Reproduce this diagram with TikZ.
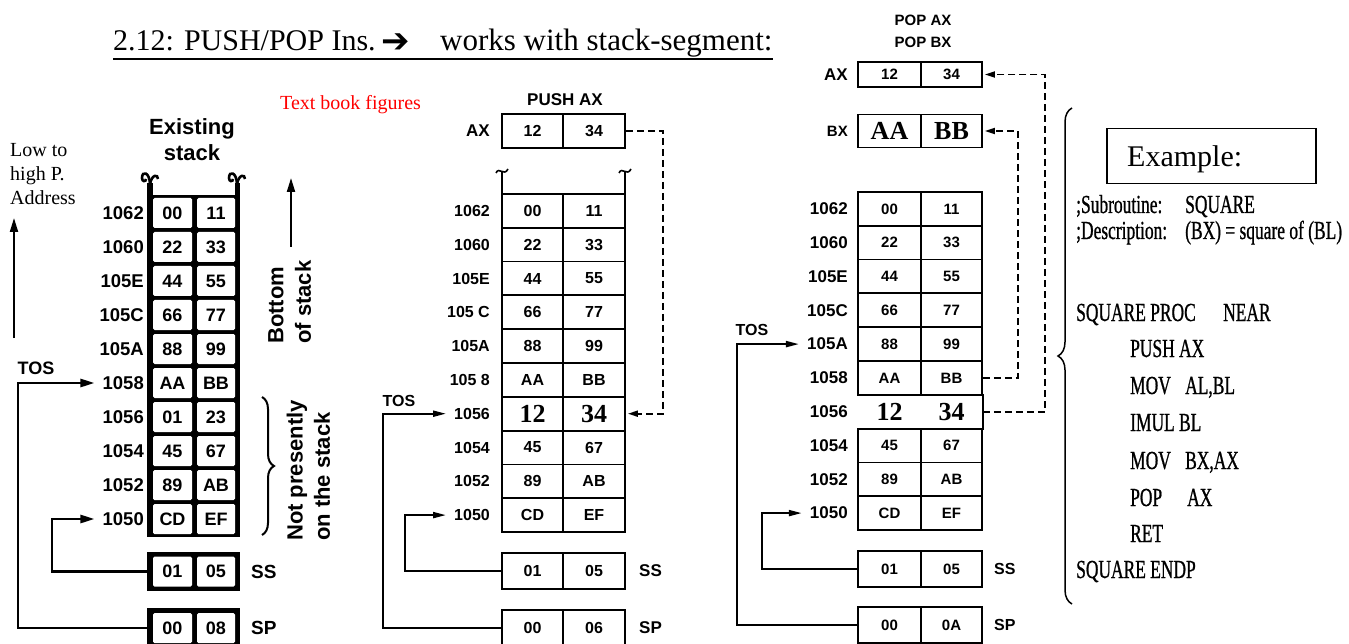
\documentclass[tikz,border=0pt]{standalone}
\usepackage{fontspec}
\usepackage{graphicx}
\setmainfont{Liberation Serif}
\newfontfamily\hv{Liberation Sans}
\newfontfamily\djv{DejaVu Sans}
\newfontfamily\codefont[FakeStretch=0.67,FakeBold=0.8]{Liberation Serif}
\usetikzlibrary{arrows.meta,decorations.pathreplacing,calc}
\newcommand\fs[1]{\fontsize{#1}{#1}\selectfont}
\newcommand\bigv[1]{{\rmfamily\bfseries\fs{26}#1}}
\newcommand\cd[1]{#1}
\begin{document}
\begin{tikzpicture}[x=1pt,y=-1pt,
  lab/.style={font=\hv\bfseries\fs{16}, anchor=east, inner sep=0pt},
  tcell/.style={fill=white, rounded corners=1.5pt, minimum width=39pt, minimum height=30pt, inner sep=0pt, font=\hv\bfseries\fs{18}},
  ncell/.style={draw, line width=1.8pt, minimum width=61pt, minimum height=33.8pt, inner sep=0pt, font=\hv\bfseries\fs{16}},
  rcell/.style={ncell, font=\hv\bfseries\fs{15}},
  rlab/.style={lab, font=\hv\bfseries\fs{17}},
  blab/.style={font=\hv\bfseries\fs{16}, inner sep=0pt},
  thk/.style={line width=2.6pt, -{Triangle[length=14pt,width=8pt]}},
  thn/.style={line width=2pt, -{Triangle[length=13pt,width=6pt]}},
  dsh/.style={line width=1.8pt, dash pattern=on 7pt off 4pt, -{Triangle[length=10pt,width=6pt]}},
  rot/.style={rotate=90, anchor=west, inner sep=0pt, font=\hv\bfseries\fs{22}},
  code/.style={anchor=base west, inner sep=0pt, font=\codefont\fs{26}},
  serl/.style={anchor=base west, inner sep=0pt, font=\fs{20}}
]
\useasboundingbox (0,0) rectangle (1349,644);

% ---------- title ----------
\node[anchor=base west, inner sep=0pt, font=\fs{30}] (t1) at (113,51) {2.12: PUSH/POP Ins.};
\node[anchor=base west, inner sep=0pt, font=\djv\fs{34}] (t2) at (381,53) {➔};
\node[anchor=base west, inner sep=0pt, font=\fs{31}] (t3) at (440,51) {works with stack-segment:};
\draw[line width=1.5pt] ([yshift=-8pt]t1.base west) -- ([yshift=-8pt]t3.base east);

\node[anchor=base west, inner sep=0pt, text=red, font=\fs{20}] (tb) at (280,110) {Text book figures};

\node[serl] (lh1) at (10,157) {Low to};
\node[serl] (lh2) at (10,181) {high P.};
\node[serl] (lh3) at (10,205) {Address};
\coordinate (up0) at (14,338);
\coordinate (up1) at (14,218);
\draw[line width=2pt, -{Triangle[length=14pt,width=8pt]}] (up0) -- (up1);

% ---------- left stack ----------
\node[anchor=base, inner sep=0pt, font=\hv\bfseries\fs{22}] (ex1) at (192,135) {Existing};
\node[anchor=base, inner sep=0pt, font=\hv\bfseries\fs{22}] (ex2) at (192,161) {stack};
\fill (147,195) rectangle (240,537);
\fill (147,183) rectangle (153,195);
\fill (235,183) rectangle (240,195);
\draw[line width=2.6pt] (150,185) .. controls (150,172) and (142,170) .. (142,178) .. controls (142,182) and (146,182) .. (146,179);
\draw[line width=2.6pt] (150,184) .. controls (152,174) and (158,174) .. (158,179);
\draw[line width=2.6pt] (237,185) .. controls (237,172) and (229,170) .. (229,178) .. controls (229,182) and (233,182) .. (233,179);
\draw[line width=2.6pt] (237,184) .. controls (239,174) and (245,174) .. (245,179);
\foreach \a/\l/\r [count=\i from 0] in {1062/00/11,1060/22/33,105E/44/55,105C/66/77,105A/88/99,1058/AA/BB,1056/01/23,1054/45/67,1052/89/AB,1050/CD/EF}{
  \node[tcell] (La\a) at (172.5,{213+34*\i}) {\l};
  \node[tcell, minimum width=38pt] (Lb\a) at (216,{213+34*\i}) {\r};
  \node[lab, font=\hv\bfseries\fs{18.5}] (Ll\a) at (144,{213+34*\i}) {\a};
}
\node[fill, minimum width=93pt, minimum height=39pt, inner sep=0pt] (LSS) at (193.5,571.5) {};
\node[tcell] (LSSa) at (172.5,571.5) {01};
\node[tcell, minimum width=38pt] (LSSb) at (216,571.5) {05};
\node[blab, anchor=west, font=\hv\bfseries\fs{19}] (LSSl) at (251,571.5) {SS};
\node[fill, minimum width=93pt, minimum height=40pt, inner sep=0pt] (LSP) at (193.5,628) {};
\node[tcell] (LSPa) at (172.5,628) {00};
\node[tcell, minimum width=38pt] (LSPb) at (216,628) {08};
\node[blab, anchor=west, font=\hv\bfseries\fs{19}] (LSPl) at (251,628) {SP};

\node[blab, font=\hv\bfseries\fs{18}] (LTOS) at (36,368) {TOS};
\draw[thk] (LSP.west) -| (18,0 |- Ll1058.west) -- ([xshift=-8pt]Ll1058.west);
\draw[thk] (LSS.west) -| (52,0 |- Ll1050.west) -- ([xshift=-8pt]Ll1050.west);

\coordinate (bs0) at (291,247);
\coordinate (bs1) at (291,178);
\draw[line width=2pt, -{Triangle[length=14pt,width=8pt]}] (bs0) -- (bs1);
\node[rot] (bot1) at (276,344) {Bottom};
\node[rot] (bot2) at (303,344) {of stack};
\coordinate (br0) at (262,397);
\coordinate (br1) at (262,535);
\draw[line width=2pt, decorate, decoration={brace, amplitude=12pt}] (br0) -- (br1);
\node[rot] (np1) at (297,541) {Not presently};
\node[rot] (np2) at (322,541) {on the stack};

% ---------- middle stack ----------
\node[blab, font=\hv\bfseries\fs{17}] (push) at (565,100) {PUSH AX};
\node[ncell, minimum height=34pt] (MAXa) at (532.5,131) {12};
\node[ncell, minimum width=62pt, minimum height=34pt] (MAXb) at (594,131) {34};
\node[lab, font=\hv\bfseries\fs{17}] (MAXl) at (490,131) {AX};
\draw[line width=1.8pt] (502,172) -- (502,194);
\draw[line width=1.8pt] (625,172) -- (625,194);
\draw[line width=1.6pt] (496,173) .. controls (499,166) and (504,177) .. (508,169);
\draw[line width=1.6pt] (619,173) .. controls (622,166) and (627,177) .. (631,169);
\foreach \n/\a/\l/\r [count=\i from 0] in {1062/1062/00/11,1060/1060/22/33,105E/105E/44/55,105C/105 C/66/77,105A/105A/88/99,1058/105 8/AA/BB,1056/1056/{\bigv{12}}/{\bigv{34}},1054/1054/45/67,1052/1052/89/AB,1050/1050/CD/EF}{
  \node[ncell] (Ma\n) at (532.5,{210.9+33.8*\i}) {\l};
  \node[ncell, minimum width=62pt] (Mb\n) at (594,{210.9+33.8*\i}) {\r};
  \node[lab] (Ml\n) at (490,{210.9+33.8*\i}) {\a};
}
\node[ncell, minimum height=36pt] (MSS) at (532.5,571) {01};
\node[ncell, minimum width=62pt, minimum height=36pt] (MSSb) at (594,571) {05};
\node[blab, anchor=west, font=\hv\bfseries\fs{17}] (MSSl) at (639,571) {SS};
\node[ncell, minimum height=36pt] (MSP) at (532.5,628) {00};
\node[ncell, minimum width=62pt, minimum height=36pt] (MSPb) at (594,628) {06};
\node[blab, anchor=west, font=\hv\bfseries\fs{17}] (MSPl) at (639,628) {SP};
\node[blab] (MTOS) at (399,401) {TOS};
\draw[thn] (MSP.west) -| (383,0 |- Ml1056.west) -- ([xshift=-8pt]Ml1056.west);
\draw[thn] (MSS.west) -| (405,0 |- Ml1050.west) -- ([xshift=-8pt]Ml1050.west);
\draw[dsh] (MAXb.east) -| (663,0 |- Mb1056.east) -- ([xshift=2pt]Mb1056.east);

% ---------- right stack ----------
\node[blab, font=\hv\bfseries\fs{15}] (pop1) at (923,20) {POP AX};
\node[blab, font=\hv\bfseries\fs{15}] (pop2) at (923,42) {POP BX};
\node[rcell, minimum width=63pt, minimum height=25pt] (RAXa) at (889.5,74.5) {12};
\node[rcell, minimum width=61pt, minimum height=25pt] (RAXb) at (951.5,74.5) {34};
\node[rlab] (RAXl) at (848,74.5) {AX};
\node[rcell, minimum width=63pt, minimum height=33pt] (RBXa) at (889.5,131) {\bigv{AA}};
\node[rcell, minimum width=61pt, minimum height=33pt] (RBXb) at (951.5,131) {\bigv{BB}};
\node[rlab, font=\hv\bfseries\fs{15}] (RBXl) at (848,131) {BX};
\foreach \a/\l/\r [count=\i from 0] in {1062/00/11,1060/22/33,105E/44/55,105C/66/77,105A/88/99,1058/AA/BB}{
  \node[rcell, minimum width=63pt] (Ra\a) at (889.5,{208.9+33.8*\i}) {\l};
  \node[rcell, minimum width=61pt] (Rb\a) at (951.5,{208.9+33.8*\i}) {\r};
  \node[rlab] (Rl\a) at (848,{208.9+33.8*\i}) {\a};
}
\node[rcell, draw=none, minimum width=63pt] (Ra1056) at (889.5,411.7) {\bigv{12}};
\node[rcell, draw=none, minimum width=61pt] (Rb1056) at (951.5,411.7) {\bigv{34}};
\node[rlab] (Rl1056) at (848,411.7) {1056};
\draw[line width=1.8pt] (Rb1056.north east) -- (Rb1056.south east);
\foreach \a/\l/\r [count=\i from 7] in {1054/45/67,1052/89/AB,1050/CD/EF}{
  \node[rcell, minimum width=63pt] (Ra\a) at (889.5,{208.9+33.8*\i}) {\l};
  \node[rcell, minimum width=61pt] (Rb\a) at (951.5,{208.9+33.8*\i}) {\r};
  \node[rlab] (Rl\a) at (848,{208.9+33.8*\i}) {\a};
}
\node[rcell, minimum width=63pt, minimum height=36pt] (RSS) at (889.5,569) {01};
\node[rcell, minimum width=61pt, minimum height=36pt] (RSSb) at (951.5,569) {05};
\node[blab, anchor=west, font=\hv\bfseries\fs{16}] (RSSl) at (994,569) {SS};
\node[rcell, minimum width=63pt, minimum height=36pt] (RSP) at (889.5,625) {00};
\node[rcell, minimum width=61pt, minimum height=36pt] (RSPb) at (951.5,625) {0A};
\node[blab, anchor=west, font=\hv\bfseries\fs{16}] (RSPl) at (994,625) {SP};
\node[blab] (RTOS) at (752,330) {TOS};
\draw[thn] (RSP.west) -| (737,0 |- Rl105A.west) -- ([xshift=-8pt]Rl105A.west);
\draw[thn] (RSS.west) -| (762,0 |- Rl1050.west) -- ([xshift=-8pt]Rl1050.west);
\draw[dsh] (Rb1056.east) -| (1045,0 |- RAXb.east) -- ([xshift=2pt]RAXb.east);
\draw[dsh] (Rb1058.east) -| (1018,0 |- RBXb.east) -- ([xshift=2pt]RBXb.east);

% ---------- example ----------
\coordinate (rb0) at (1072,604);
\coordinate (rb1) at (1072,108);
\draw[line width=1.5pt, decorate, decoration={brace, amplitude=14pt}] (rb0) -- (rb1);
\node[draw, line width=1.2pt, minimum width=209pt, minimum height=55pt] (exbox) at (1211.5,156) {};
\node[anchor=base west, inner sep=0pt, font=\fs{30}] (extext) at (1127,167) {Example:};
\node[code] (c1a) at (1076,213) {\cd{;Subroutine:}};
\node[code] (c1b) at (1185,213) {\cd{SQUARE}};
\node[code] (c2a) at (1076,239) {\cd{;Description:}};
\node[code] (c2b) at (1185,239) {\cd{(BX) = square of (BL)}};
\node[code] (c3a) at (1076,321) {\cd{SQUARE PROC}};
\node[code] (c3b) at (1223,321) {\cd{NEAR}};
\node[code] (c4) at (1130,357) {\cd{PUSH AX}};
\node[code] (c5a) at (1130,394) {\cd{MOV}};
\node[code] (c5b) at (1185,394) {\cd{AL,BL}};
\node[code] (c6) at (1130,431) {\cd{IMUL BL}};
\node[code] (c7a) at (1130,469) {\cd{MOV}};
\node[code] (c7b) at (1185,469) {\cd{BX,AX}};
\node[code] (c8a) at (1130,506) {\cd{POP}};
\node[code] (c8b) at (1187,506) {\cd{AX}};
\node[code] (c9) at (1130,542) {\cd{RET}};
\node[code] (c10) at (1076,578) {\cd{SQUARE ENDP}};
\end{tikzpicture}
\end{document}
